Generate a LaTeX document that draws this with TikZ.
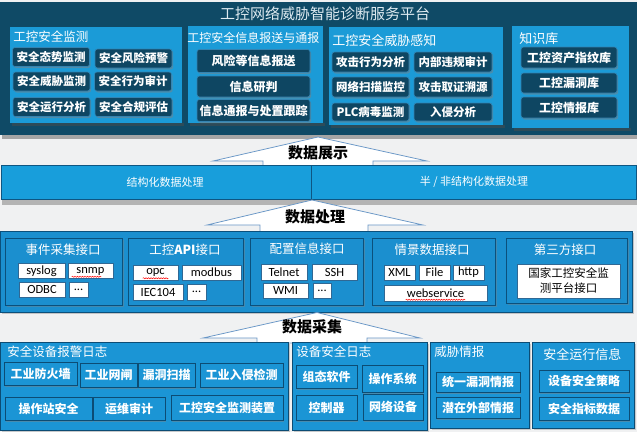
\documentclass[tikz,border=0pt]{standalone}
\usepackage{fontspec}
\setmainfont{Noto Sans CJK SC}
\newfontfamily\latinfont{Carlito}
\usepackage{xcolor}
\usepackage{tikz}
\usetikzlibrary{shadows,calc,decorations.pathmorphing}
\tikzset{every picture/.style={line width=0.75pt}}
\definecolor{pagegray}{RGB}{240,241,242}
\definecolor{platform}{RGB}{15,74,102}
\definecolor{skyblue}{RGB}{27,155,215}
\definecolor{darkitem}{RGB}{14,70,98}
\definecolor{itemrim}{RGB}{52,132,178}
\definecolor{roofline}{RGB}{104,150,198}
\definecolor{bandblue}{RGB}{24,158,219}
\definecolor{bandline}{RGB}{14,86,130}
\definecolor{portblue}{RGB}{27,143,207}
\definecolor{portline}{RGB}{11,80,124}
\definecolor{boxrim}{RGB}{48,104,148}
\definecolor{logblue}{RGB}{27,149,213}
\definecolor{logline}{RGB}{12,76,116}

\begin{document}
\begin{tikzpicture}[x=1pt,y=1pt,yscale=-1,xscale=1,
    panel/.style={fill=skyblue},
    ptitle/.style={anchor=west,text=white,inner sep=0pt,font=\fontsize{12.5}{14}\selectfont},
    darkbox/.style={fill=darkitem,draw=itemrim,line width=0.6pt,rounded corners=2.5pt,text=white,inner sep=0pt,
        font=\fontsize{11.5}{13}\selectfont\bfseries,drop shadow={opacity=0.5,shadow xshift=1.2pt,shadow yshift=-1.5pt}},
    roof/.style={fill=white,draw=roofline},
    rooftext/.style={inner sep=0pt,font=\fontsize{15}{17}\selectfont\bfseries},
    band/.style={fill=bandblue,draw=bandline,line width=0.6pt,text=white,font=\fontsize{11}{13}\selectfont},
    portpanel/.style={fill=portblue,draw=portline,line width=0.8pt,drop shadow={opacity=0.4,shadow xshift=1.5pt,shadow yshift=-1.5pt}},
    porttitle/.style={text=white,inner sep=0pt,font=\fontsize{12.5}{14}\selectfont},
    whitebox/.style={fill=white,draw=boxrim,line width=0.5pt,inner sep=0pt,font=\latinfont\fontsize{12.5}{14}\selectfont},
    logpanel/.style={fill=logblue,draw=logline,line width=0.8pt,drop shadow={opacity=0.35,shadow xshift=1.5pt,shadow yshift=-1.5pt}},
    logbox/.style={fill=logblue,draw=logline,line width=0.8pt,text=white,inner sep=0pt,
        font=\fontsize{12}{14}\selectfont\bfseries,drop shadow={opacity=0.45,shadow xshift=1.2pt,shadow yshift=-1.5pt}},
    typo/.style={draw=red,line width=0.5pt,decorate,decoration={snake,amplitude=0.6pt,segment length=2.5pt}}]
    \fill [pagegray] (0,0) rectangle (637,432);
    \useasboundingbox (0,0) rectangle (637,432);
    \fill [black!55,opacity=0.6] (2,134) rectangle (637,139);
    \fill [platform] (0,2) rectangle (637,135);
    \node [text={rgb,255:red,222;green,234;blue,240},inner sep=0pt,font=\fontsize{15}{17}\selectfont] (platformtitle) at (325,14) {工控网络威胁智能诊断服务平台};
    \fill [black!70,opacity=0.5] (12,123) rectangle (184,126);
    \fill [black!70,opacity=0.5] (190,123) rectangle (325,126);
    \fill [black!70,opacity=0.5] (331,125) rectangle (505,128);
    \fill [black!70,opacity=0.5] (514,128) rectangle (631,131);
    \fill [panel] (10,27) rectangle (182,123);
    \fill [panel] (188,26) rectangle (323,123);
    \fill [panel] (329,27) rectangle (503,125);
    \fill [panel] (512,26) rectangle (629,128);
    \node [ptitle] (monitor) at (13,37) {工控安全监测};
    \node [ptitle,font=\fontsize{12}{14}\selectfont] (report) at (187,38) {工控安全信息报送与通报};
    \node [ptitle,font=\fontsize{13}{15}\selectfont] (sense) at (332,41) {工控安全威胁感知};
    \node [ptitle,font=\fontsize{13}{15}\selectfont] (knowledge) at (519,39) {知识库};
    \node [darkbox,minimum width=77,minimum height=19] (situation) at (51,57) {安全态势监测};
    \node [darkbox,minimum width=77,minimum height=19] (warning) at (133.5,58.5) {安全风险预警};
    \node [darkbox,minimum width=77,minimum height=19] (threat) at (51.5,81.5) {安全威胁监测};
    \node [darkbox,minimum width=77,minimum height=19] (behaviour) at (133,81.5) {安全行为审计};
    \node [darkbox,minimum width=77,minimum height=19] (operation) at (51.5,107) {安全运行分析};
    \node [darkbox,minimum width=77,minimum height=19] (compliance) at (133.5,107) {安全合规评估};
    \node [darkbox,minimum width=113,minimum height=23,font=\fontsize{12}{14}\selectfont\bfseries] (riskreport) at (253.5,61) {风险等信息报送};
    \node [darkbox,minimum width=113,minimum height=21,font=\fontsize{12}{14}\selectfont\bfseries] (judge) at (253.5,86.5) {信息研判};
    \node [darkbox,minimum width=113,minimum height=22,font=\fontsize{12}{14}\selectfont\bfseries] (tracking) at (253.5,110.5) {信息通报与处置跟踪};
    \node [darkbox,minimum width=77,minimum height=20] (attack) at (370.5,62) {攻击行为分析};
    \node [darkbox,minimum width=78,minimum height=20] (violation) at (453,62) {内部违规审计};
    \node [darkbox,minimum width=77,minimum height=20] (scan) at (370.5,87) {网络扫描监控};
    \node [darkbox,minimum width=78,minimum height=20] (forensics) at (453,87) {攻击取证溯源};
    \node [darkbox,minimum width=77,minimum height=18] (plcvirus) at (370.5,112) {PLC病毒监测};
    \node [darkbox,minimum width=78,minimum height=18] (intrusion) at (453,112) {入侵分析};
    \node [darkbox,minimum width=96,minimum height=21,font=\fontsize{12}{14}\selectfont\bfseries] (fingerprint) at (569,57.5) {工控资产指纹库};
    \node [darkbox,minimum width=96,minimum height=20,font=\fontsize{12}{14}\selectfont\bfseries] (vulnlib) at (569,83) {工控漏洞库};
    \node [darkbox,minimum width=96,minimum height=21,font=\fontsize{12}{14}\selectfont\bfseries] (intellib) at (569,107.5) {工控情报库};
    \draw [roof] (213,161) -- (318,137) -- (427,161) -- (373,161) -- (373,166) -- (263,166) -- (263,161) -- cycle;
    \node [rooftext] (display) at (318,153) {数据展示};
    \fill [black!45,opacity=0.6] (2,199) rectangle (637,205);
    \node [band,minimum width=310,minimum height=34,inner sep=0pt] (structured) at (156,182) {};
    \node [band,minimum width=325,minimum height=34,inner sep=0pt] (semistructured) at (473.5,182) {};
    \node [text=white,inner sep=0pt,font=\fontsize{11}{13}\selectfont] (structuredtext) at (165,182) {结构化数据处理};
    \node [text=white,inner sep=0pt,font=\fontsize{11}{13}\selectfont] (semitext) at (474,182) {半 / 非结构化数据处理};
    \draw [roof] (207,225) -- (312,200) -- (423,225) -- (368,225) -- (368,232) -- (260,232) -- (260,225) -- cycle;
    \node [rooftext] (processing) at (315,217) {数据处理};
    \draw [portpanel] (0,231) rectangle (632,312);
    \draw [portpanel] (5,238) rectangle (122,305);
    \draw [portpanel] (128,238) rectangle (243,305);
    \draw [portpanel] (250,238) rectangle (363,305);
    \draw [portpanel] (372,238) rectangle (495,305);
    \draw [portpanel] (506,238) rectangle (627,303);
    \node [porttitle] (eventport) at (63,250) {事件采集接口};
    \node [porttitle] (apiport) at (185,250) {工控{\bfseries API}接口};
    \node [porttitle] (configport) at (307,249) {配置信息接口};
    \node [porttitle] (sceneport) at (432,250) {情景数据接口};
    \node [porttitle] (thirdport) at (565,250) {第三方接口};
    \node [whitebox,minimum width=47,minimum height=15] (syslog) at (41.5,271) {syslog};
    \node [whitebox,minimum width=45,minimum height=15] (snmp) at (90.5,271) {snmp};
    \node [whitebox,minimum width=46,minimum height=15] (odbc) at (42,289.5) {ODBC};
    \node [whitebox,minimum width=19,minimum height=15] (eventmore) at (78.5,289.5) {...};
    \node [whitebox,minimum width=45,minimum height=15] (opc) at (155.5,272.5) {opc};
    \node [whitebox,minimum width=59,minimum height=15] (modbus) at (211.5,272.5) {modbus};
    \node [whitebox,minimum width=50,minimum height=16] (iec) at (158,292) {IEC104};
    \node [whitebox,minimum width=19,minimum height=16] (apimore) at (196.5,292) {...};
    \node [whitebox,minimum width=46,minimum height=16] (telnet) at (284,272) {Telnet};
    \node [whitebox,minimum width=45,minimum height=16] (ssh) at (334.5,272) {SSH};
    \node [whitebox,minimum width=45,minimum height=15] (wmi) at (285.5,290.5) {WMI};
    \node [whitebox,minimum width=18,minimum height=15] (configmore) at (322,290.5) {...};
    \node [whitebox,minimum width=31,minimum height=15] (xml) at (399.5,272.5) {XML};
    \node [whitebox,minimum width=31,minimum height=15] (file) at (434.5,272.5) {File};
    \node [whitebox,minimum width=31,minimum height=15] (http) at (468.5,272.5) {http};
    \node [whitebox,minimum width=103,minimum height=16] (webservice) at (435.5,293) {webservice};
    \node [whitebox,minimum width=103,minimum height=34,align=center,font=\fontsize{11.5}{15}\selectfont] (national) at (568.5,281) {国家工控安全监\\测平台接口};
    \draw [typo] ($(snmp.south west)+(4,-2)$) -- ($(snmp.south east)+(-12,-2)$);
    \draw [typo] ($(opc.south west)+(10,-2)$) -- ($(opc.south east)+(-10,-2)$);
    \draw [typo] ($(webservice.south west)+(22,-1.5)$) -- ($(webservice.south east)+(-22,-1.5)$);
    \draw [roof] (203,338) -- (317,312.5) -- (420,338) -- (367,338) -- (367,343) -- (257,343) -- (257,338) -- cycle;
    \node [rooftext] (collection) at (312,327) {数据采集};
    \draw [logpanel] (0,342) rectangle (288,430);
    \draw [logpanel] (292,342) rectangle (427,430);
    \draw [logpanel] (430,342) rectangle (529,428);
    \draw [logpanel] (532,342) rectangle (634,428);
    \node [ptitle] (alarmlog) at (7,352) {安全设备报警日志};
    \node [ptitle] (devicelog) at (296,352) {设备安全日志};
    \node [ptitle] (intel) at (434,352) {威胁情报};
    \node [ptitle,font=\fontsize{13}{15}\selectfont] (runinfo) at (543,355) {安全运行信息};
    \node [logbox,minimum width=73,minimum height=23] (firewall) at (40.5,373.5) {工业防火墙};
    \node [logbox,minimum width=57,minimum height=24] (gatekeeper) at (108.5,375) {工业网闸};
    \node [logbox,minimum width=57,minimum height=24] (vulnscan) at (166.5,375) {漏洞扫描};
    \node [logbox,minimum width=83,minimum height=24] (ids) at (241.5,375) {工业入侵检测};
    \node [logbox,minimum width=87,minimum height=23] (station) at (48.5,408.5) {操作站安全};
    \node [logbox,minimum width=72,minimum height=23] (audit) at (129,408.5) {运维审计};
    \node [logbox,minimum width=112,minimum height=25] (monitordevice) at (227,407.5) {工控安全监测装置};
    \node [logbox,minimum width=61,minimum height=23] (scada) at (326.5,376.5) {组态软件};
    \node [logbox,minimum width=61,minimum height=27] (os) at (392.5,378.5) {操作系统};
    \node [logbox,minimum width=61,minimum height=25] (controller) at (326.5,407.5) {控制器};
    \node [logbox,minimum width=60,minimum height=26] (netdevice) at (393,407) {网络设备};
    \node [logbox,minimum width=84,minimum height=20] (unifiedvuln) at (478,382) {统一漏洞情报};
    \node [logbox,minimum width=84,minimum height=21] (external) at (478,407.5) {潜在外部情报};
    \node [logbox,minimum width=90,minimum height=22] (policy) at (584,381) {设备安全策略};
    \node [logbox,minimum width=90,minimum height=23] (metrics) at (584,408.5) {安全指标数据};
\end{tikzpicture}
\end{document}
